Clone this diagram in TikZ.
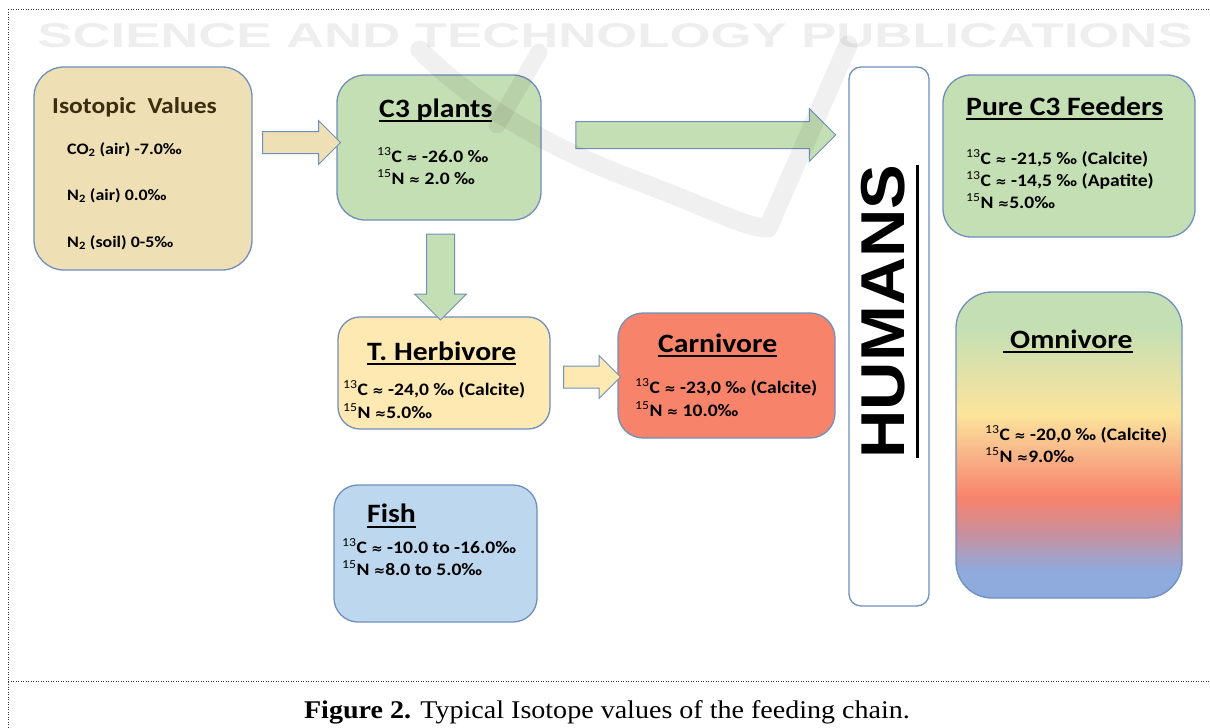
\documentclass[tikz,border=0pt]{standalone}
\usepackage{fontspec}
\setmainfont{Carlito}[FakeStretch=1.12]
\newfontfamily\capfont{Liberation Serif}[FakeStretch=1.1]
\newfontfamily\humfont{Liberation Sans}[FakeStretch=1.08]
\newfontfamily\wmfont{Liberation Sans}
\newfontfamily\symf{DejaVu Sans}
\usetikzlibrary{shapes.arrows}
\definecolor{bordc}{HTML}{6F8FBE}
\definecolor{tanf}{HTML}{EEDFB4}
\definecolor{greenf}{HTML}{C5DFB4}
\definecolor{yelf}{HTML}{FFE9B3}
\definecolor{salf}{HTML}{F8836B}
\definecolor{bluef}{HTML}{BDD7EE}
\definecolor{omb}{HTML}{8FAADC}
\definecolor{omm}{HTML}{CC8E9A}
\definecolor{omp}{HTML}{F8B88A}
\definecolor{omy}{HTML}{FCE49B}
\definecolor{isobrown}{HTML}{3B2E10}
\definecolor{wmgray}{HTML}{EEEEEE}
\definecolor{framec}{HTML}{333333}
\pgfdeclareverticalshading{omni}{100bp}{color(0bp)=(omb); color(25bp)=(omb); color(29.5bp)=(omb); color(36bp)=(omm); color(41.5bp)=(salf); color(49bp)=(omp); color(55bp)=(omy); color(69bp)=(greenf); color(75bp)=(greenf); color(100bp)=(greenf)}
\newcommand\ulx[3]{\setbox0\hbox{#3}\rlap{\rule[-#1]{\wd0}{#2}}\box0}
\newcommand\iso[1]{\textsuperscript{\mdseries #1}}
\newcommand\apx{{\symf\bfseries\fontsize{13.5}{16}\selectfont ≈}}
\begin{document}
\begin{tikzpicture}[x=1pt,y=-1pt,
  box/.style={draw=bordc, line width=1.3pt, inner sep=0pt},
  ttl/.style={anchor=base west, inner sep=0pt, font=\bfseries\fontsize{26.5}{30}\selectfont},
  bl/.style={anchor=base west, inner sep=0pt, font=\bfseries\fontsize{17.5}{20}\selectfont},
  il/.style={anchor=base west, inner sep=0pt, font=\bfseries\fontsize{16}{19}\selectfont},
  barrow/.style={single arrow, draw=bordc, line width=1pt, inner sep=0pt, minimum height=#1},
  frame/.style={draw=framec, line width=1pt, dash pattern=on 1pt off 1.5pt},
  wm/.style={black, opacity=0.06, line width=19pt, line cap=round, line join=round}
]
\useasboundingbox (0,0) rectangle (1210,728);
% frame
\draw[frame] (8,9) -- (1210,9);
\draw[frame] (8,9) -- (8,728);
\draw[frame] (8,681) -- (1210,681);
% watermark text
\node[text=wmgray, inner sep=0pt] (wmtext) at (615,36) {\resizebox{1155pt}{24pt}{\wmfont\bfseries SCIENCE AND TECHNOLOGY PUBLICATIONS}};
% boxes
\node[box, fill=tanf, minimum width=218, minimum height=203, rounded corners=30pt] (iso) at (143,168.5) {};
\node[box, fill=greenf, minimum width=204, minimum height=145, rounded corners=28pt] (c3) at (439,147.5) {};
\node[box, fill=yelf, minimum width=212, minimum height=112, rounded corners=22pt] (herb) at (444,373) {};
\node[box, fill=salf, minimum width=217, minimum height=125, rounded corners=25pt] (carn) at (726.5,375.5) {};
\node[box, fill=bluef, minimum width=203, minimum height=137, rounded corners=24pt] (fish) at (435.5,553.5) {};
\node[box, fill=white, minimum width=80, minimum height=539, rounded corners=12pt] (humans) at (889,336.5) {};
\node[box, fill=greenf, minimum width=252, minimum height=162, rounded corners=28pt] (pure) at (1069,156) {};
\node[box, shading=omni, minimum width=226, minimum height=306, rounded corners=36pt] (omni) at (1069,445) {};
% block arrows
\node[barrow=78pt, fill=tanf, text height=10.5pt, text depth=10.5pt, single arrow head extend=11pt] (a1) at (296,142.5) {};
\node[barrow=260pt, fill=greenf, text height=13pt, text depth=13pt, single arrow head extend=13pt] (a2) at (699,135) {};
\node[barrow=86pt, fill=greenf, text height=13.5pt, text depth=13.5pt, single arrow head extend=12pt, rotate=-90] (a3) at (440.5,270) {};
\node[barrow=57pt, fill=yelf, text height=10.5pt, text depth=10.5pt, single arrow head extend=10.5pt] (a4) at (586.5,377) {};
% texts
\node[anchor=base west, inner sep=0pt, text=isobrown, font=\bfseries\fontsize{22.8}{27}\selectfont] (isot) at (52,113) {Isotopic\ \ Values};
\node[il] (iso1) at (67,154) {CO\textsubscript{2} (air) -7.0‰};
\node[il] (iso2) at (67,200) {N\textsubscript{2} (air) 0.0‰};
\node[il] (iso3) at (67,247) {N\textsubscript{2} (soil) 0-5‰};
\node[ttl] (c3t) at (379,117) {\ulx{5pt}{2pt}{C3 plants}};
\node[bl] (c31) at (377,162) {\iso{13}C \apx{} -26.0 ‰};
\node[bl] (c32) at (377,184) {\iso{15}N \apx{} 2.0 ‰};
\node[ttl] (herbt) at (367,360) {\ulx{5pt}{2pt}{T. Herbivore}};
\node[bl] (herb1) at (343,395) {\iso{13}C \apx{} -24,0 ‰ (Calcite)};
\node[bl] (herb2) at (343,418) {\iso{15}N \apx5.0‰};
\node[ttl] (carnt) at (658,352) {\ulx{5pt}{2pt}{Carnivore}};
\node[bl] (carn1) at (635,393) {\iso{13}C \apx{} -23,0 ‰ (Calcite)};
\node[bl] (carn2) at (635,416) {\iso{15}N \apx{} 10.0‰};
\node[ttl] (fisht) at (367,522) {\ulx{6pt}{2pt}{Fish}};
\node[bl] (fish1) at (342,553) {\iso{13}C \apx{} -10.0 to -16.0‰};
\node[bl] (fish2) at (342,575) {\iso{15}N \apx8.0 to 5.0‰};
\node[ttl] (puret) at (966,115) {\ulx{5pt}{2pt}{Pure C3 Feeders}};
\node[bl] (pure1) at (966,164) {\iso{13}C \apx{} -21,5 ‰ (Calcite)};
\node[bl] (pure2) at (966,186) {\iso{13}C \apx{} -14,5 ‰ (Apatite)};
\node[bl] (pure3) at (966,208) {\iso{15}N \apx5.0‰};
\node[ttl] (omnit) at (1003,348) {\ulx{5pt}{2pt}{\kern7pt Omnivore}};
\node[bl] (omni1) at (985,440) {\iso{13}C \apx{} -20,0 ‰ (Calcite)};
\node[bl] (omni2) at (985,462) {\iso{15}N \apx9.0‰};
\node[anchor=base, inner sep=0pt, rotate=90, font=\humfont\bfseries\fontsize{62}{62}\selectfont] (humt) at (904,311.5) {\ulx{15pt}{3pt}{HUMANS}};
% watermark logo strokes
\draw[wm] (420,50) .. controls (470,100) and (540,145) .. (640,182) .. controls (710,208) and (745,228) .. (768,228) -- (848,45);
\draw[wm, line width=17pt] (497,125) -- (539,52);
% caption
\node[font=\capfont\fontsize{25.5}{30}\selectfont, inner sep=0pt] (cap) at (607,712) {\textbf{Figure 2.} Typical Isotope values of the feeding chain.};
\end{tikzpicture}
\end{document}
